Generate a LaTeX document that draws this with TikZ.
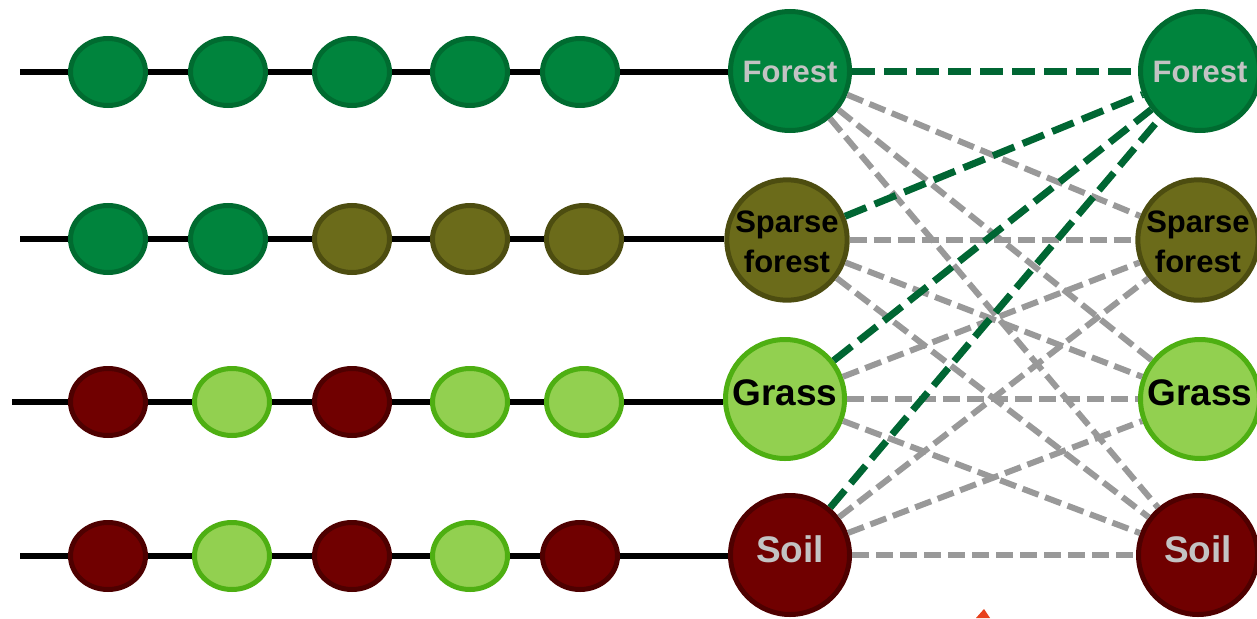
\documentclass[tikz,border=0pt]{standalone}
\usepackage{fontspec}
\setmainfont{Liberation Sans}
\usetikzlibrary{shapes.geometric,backgrounds}
\definecolor{fgreen}{HTML}{00843D}
\definecolor{fgreenb}{HTML}{006B30}
\definecolor{olivef}{HTML}{6B6B1A}
\definecolor{oliveb}{HTML}{4D4D10}
\definecolor{lgreen}{HTML}{92D050}
\definecolor{lgreenb}{HTML}{4EAF12}
\definecolor{dred}{HTML}{700000}
\definecolor{dredb}{HTML}{4E0000}
\definecolor{lgray}{HTML}{C3C3C3}
\definecolor{dgline}{HTML}{006633}
\definecolor{gline}{HTML}{999999}
\definecolor{redmark}{HTML}{E8401C}
\newcommand{\upby}[2]{\raisebox{#1}[\height][\depth]{#2}}
\tikzset{
  small/.style={ellipse,minimum width=75pt,minimum height=67pt,inner sep=0pt,line width=5pt},
  sF/.style={small,fill=fgreen,draw=fgreenb},
  sS/.style={small,fill=olivef,draw=oliveb},
  sG/.style={small,fill=lgreen,draw=lgreenb},
  sO/.style={small,fill=dred,draw=dredb},
  big/.style={circle,minimum size=119pt,inner sep=0pt,line width=5pt,align=center,font=\bfseries\fontsize{31}{40}\selectfont},
  bF/.style={big,fill=fgreen,draw=fgreenb,text=lgray},
  bS/.style={big,fill=olivef,draw=oliveb,text=black},
  bG/.style={big,fill=lgreen,draw=lgreenb,text=black,font=\bfseries\fontsize{37}{44}\selectfont},
  bO/.style={big,fill=dred,draw=dredb,text=lgray,font=\bfseries\fontsize{37}{44}\selectfont},
  rowline/.style={line width=6.5pt,black},
  gdash/.style={gline,line width=6pt,dash pattern=on 17pt off 7pt},
  ddash/.style={dgline,line width=7pt,dash pattern=on 23pt off 9pt},
}
\begin{document}
\begin{tikzpicture}[x=1pt,y=-1pt]
\useasboundingbox (0,0) rectangle (1257,618);
% left big nodes
\node[bF] (LF) at (790,71) {\upby{-1pt}{Forest}};
\node[bS] (LS) at (787,240) {\upby{-2pt}{Sparse}\\\upby{-2pt}{forest}};
\node[bG] (LG) at (785,399) {\upby{6pt}{Grass}};
\node[bO] (LO) at (790,555) {\upby{6pt}{Soil}};
% right big nodes
\node[bF] (RF) at (1200,71) {\upby{-1pt}{Forest}};
\node[bS] (RS) at (1198,240) {\upby{-2pt}{Sparse}\\\upby{-2pt}{forest}};
\node[bG] (RG) at (1200,399) {\upby{6pt}{Grass}};
\node[bO] (RO) at (1198,555) {\upby{6pt}{Soil}};
% row 1
\node[sF] (a1) at (108,72) {};
\node[sF] (a2) at (228,72) {};
\node[sF] (a3) at (352,72) {};
\node[sF] (a4) at (470,72) {};
\node[sF] (a5) at (580,72) {};
% row 2
\node[sF] (b1) at (108,239) {};
\node[sF] (b2) at (228,239) {};
\node[sS] (b3) at (352,239) {};
\node[sS] (b4) at (470,239) {};
\node[sS] (b5) at (584,239) {};
% row 3
\node[sO] (c1) at (108,402) {};
\node[sG] (c2) at (232,402) {};
\node[sO] (c3) at (352,402) {};
\node[sG] (c4) at (470,402) {};
\node[sG] (c5) at (584,402) {};
% row 4
\node[sO] (d1) at (108,556) {};
\node[sG] (d2) at (232,556) {};
\node[sO] (d3) at (352,556) {};
\node[sG] (d4) at (470,556) {};
\node[sO] (d5) at (580,556) {};
% row start points
\coordinate (s1) at (20,72);
\coordinate (s2) at (20,239);
\coordinate (s3) at (12,402);
\coordinate (s4) at (20,556);
\begin{pgfonlayer}{background}
\draw[rowline] (s1) -- (LF.west |- s1);
\draw[rowline] (s2) -- (LS.west |- s2);
\draw[rowline] (s3) -- (LG.west |- s3);
\draw[rowline] (s4) -- (LO.west |- s4);
\end{pgfonlayer}
% gray connectors
\foreach \a in {LF,LS,LG,LO}{
  \foreach \b in {RS,RG,RO}{
    \draw[gdash] (\a) -- (\b);
  }
}
% dark green connectors
\foreach \a in {LF,LS,LG,LO}{
  \draw[ddash] (\a) -- (RF);
}
% partial red mark at bottom edge
\fill[redmark] (976,618) -- (984,609) -- (990,618) -- cycle;
\end{tikzpicture}
\end{document}
